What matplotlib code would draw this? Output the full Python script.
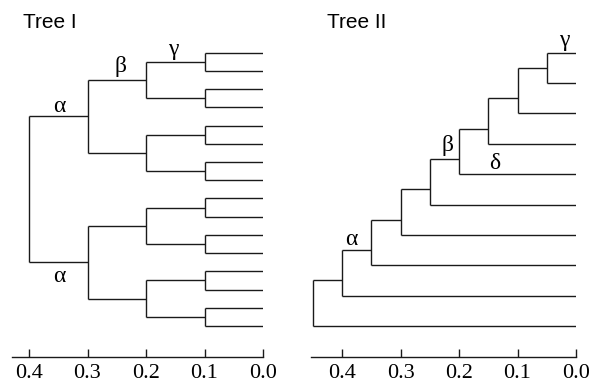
import matplotlib
matplotlib.use('Agg')
import matplotlib.pyplot as plt

# ---- data ----
tree1_title = "Tree I"
tree2_title = "Tree II"
tree1_leaf_count = 16
tree1_level_heights = [0.1, 0.2, 0.3, 0.4]
tree2_leaf_count = 10
tree2_node_heights = [0.05, 0.10, 0.15, 0.20, 0.25, 0.30, 0.35, 0.40, 0.45]
tick_values = [0.4, 0.3, 0.2, 0.1, 0.0]
tick_labels = ["0.4", "0.3", "0.2", "0.1", "0.0"]
# label text, x (height), y (leaf units), baseline offset in pixels
tree1_labels = [("α", 0.349, 3.5, 4), ("α", 0.349, 11.5, -20),
                ("β", 0.243, 1.5, 8), ("γ", 0.154, 0.5, 7)]
tree2_labels = [("γ", 0.0205, 0.0, 7), ("β", 0.219, 3.5, 8),
                ("δ", 0.139, 4.0, 5), ("α", 0.384, 6.5, 5)]

W, H = 594, 389
fig = plt.figure(figsize=(W / 100, H / 100), dpi=100)

LC = '#1a1a1a'
LW = 1.0
serif = ['Liberation Serif', 'DejaVu Serif']
sans = ['Liberation Sans', 'DejaVu Sans']

top_px, bot_px = 40.0, 356.7
leaf0_px, leafN_px = 52.7, 326.0


def make_axes(left_px, right_px, n_leaves):
    ax = fig.add_axes([left_px / W, 1 - bot_px / H,
                       (right_px - left_px) / W, (bot_px - top_px) / H])
    scale = (leafN_px - leaf0_px) / (n_leaves - 1)
    ymin = -(leaf0_px - top_px) / scale
    ymax = (n_leaves - 1) + (bot_px - leafN_px) / scale
    ax.set_ylim(ymax, ymin)
    ax.set_xlim((right_px - left_px) / 585.0, 0.0)
    for s in ['top', 'left', 'right']:
        ax.spines[s].set_visible(False)
    ax.spines['bottom'].set_linewidth(LW)
    ax.spines['bottom'].set_color(LC)
    ax.set_yticks([])
    ax.set_xticks(tick_values)
    ax.set_xticklabels(tick_labels, family=serif, fontsize=16)
    ax.tick_params(axis='x', direction='in', length=6, width=LW,
                   color=LC, pad=5)
    ax.patch.set_alpha(0)
    return ax


def draw_link(ax, xp, y1, h1, y2, h2, yp):
    ax.plot([h1, xp], [y1, y1], color=LC, lw=LW, solid_capstyle='butt')
    ax.plot([h2, xp], [y2, y2], color=LC, lw=LW, solid_capstyle='butt')
    ax.plot([xp, xp], [y1, y2], color=LC, lw=LW, solid_capstyle='butt')


def add_labels(ax, labels):
    for txt, x, y, off in labels:
        ax.annotate(txt, xy=(x, y), xytext=(0, off), textcoords='offset pixels',
                    ha='center', va='baseline', family=serif, fontsize=17)


# ---- Tree I (balanced) ----
ax1 = make_axes(12, 263, tree1_leaf_count)
nodes = [(float(i), 0.0) for i in range(tree1_leaf_count)]
for h in tree1_level_heights:
    new = []
    for k in range(0, len(nodes), 2):
        (ya, ha), (yb, hb) = nodes[k], nodes[k + 1]
        yp = (ya + yb) / 2
        draw_link(ax1, h, ya, ha, yb, hb, yp)
        new.append((yp, h))
    nodes = new
add_labels(ax1, tree1_labels)

# ---- Tree II (caterpillar) ----
ax2 = make_axes(311, 576, tree2_leaf_count)
prev = (0.0, 0.0)
for j, h in enumerate(tree2_node_heights, start=1):
    leaf = (float(j), 0.0)
    yp = (j - 1 + j) / 2
    draw_link(ax2, h, prev[0], prev[1], leaf[0], leaf[1], yp)
    prev = (yp, h)
add_labels(ax2, tree2_labels)

fig.text(22.7 / W, 1 - 28.3 / H, tree1_title, family=sans, fontsize=15,
         ha='left', va='baseline')
fig.text(327 / W, 1 - 28.3 / H, tree2_title, family=sans, fontsize=15,
         ha='left', va='baseline')

fig.savefig('out.png', dpi=100)
